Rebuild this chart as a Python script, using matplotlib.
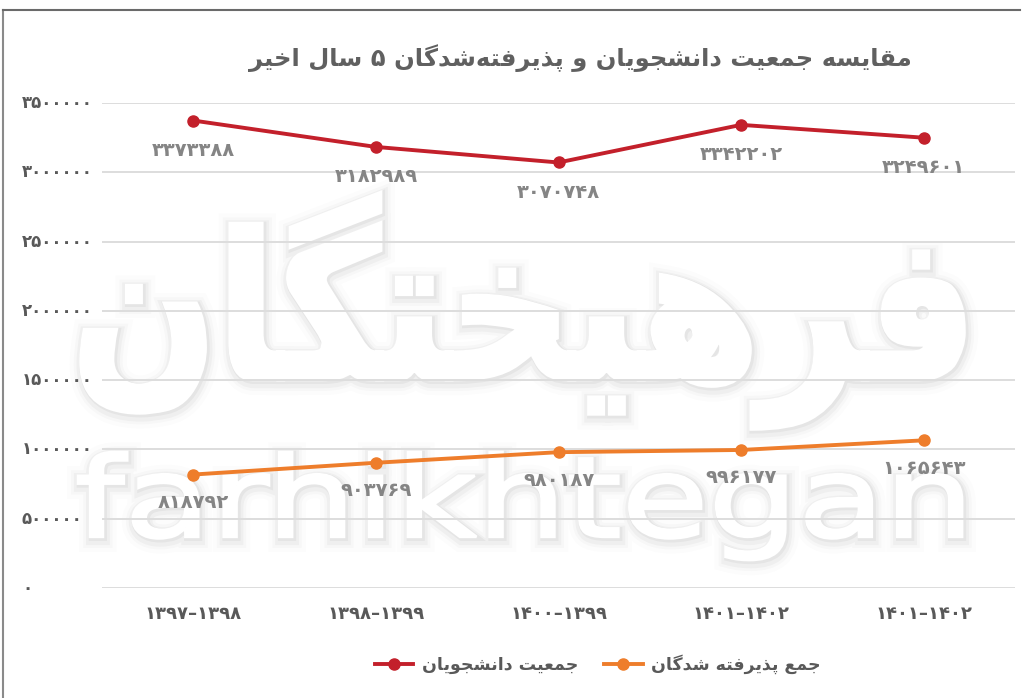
import matplotlib
matplotlib.use("Agg")
import matplotlib.pyplot as plt
from matplotlib.lines import Line2D
from matplotlib import transforms
from matplotlib.textpath import TextPath
from matplotlib.patches import PathPatch
from matplotlib.font_manager import FontProperties
import matplotlib.patheffects as pe

# ---------------- data ----------------
categories = ["1397-1398", "1398-1399", "1400-1399", "1401-1402", "1401-1402"]
students = [3373388, 3182989, 3070748, 3342202, 3249601]
admitted = [818792, 903769, 980187, 996177, 1065643]
yticks = [0, 500000, 1000000, 1500000, 2000000, 2500000, 3000000, 3500000]
title_text = "مقایسه جمعیت دانشجویان و پذیرفته\u200cشدگان ۵ سال اخیر"
label_students = "جمعیت دانشجویان"
label_admitted = "جمع پذیرفته شدگان"
watermark_fa = "فرهیختگان"
watermark_en = "farhikhtegan"

# ---------------- helpers ----------------
FORMS = {
    'ا': ('\uFE8D', '\uFE8E', None, None),
    'پ': ('\uFB56', '\uFB57', '\uFB58', '\uFB59'),
    'ت': ('\uFE95', '\uFE96', '\uFE97', '\uFE98'),
    'ج': ('\uFE9D', '\uFE9E', '\uFE9F', '\uFEA0'),
    'خ': ('\uFEA5', '\uFEA6', '\uFEA7', '\uFEA8'),
    'د': ('\uFEA9', '\uFEAA', None, None),
    'ذ': ('\uFEAB', '\uFEAC', None, None),
    'ر': ('\uFEAD', '\uFEAE', None, None),
    'س': ('\uFEB1', '\uFEB2', '\uFEB3', '\uFEB4'),
    'ش': ('\uFEB5', '\uFEB6', '\uFEB7', '\uFEB8'),
    'ع': ('\uFEC9', '\uFECA', '\uFECB', '\uFECC'),
    'ف': ('\uFED1', '\uFED2', '\uFED3', '\uFED4'),
    'ق': ('\uFED5', '\uFED6', '\uFED7', '\uFED8'),
    'گ': ('\uFB92', '\uFB93', '\uFB94', '\uFB95'),
    'ل': ('\uFEDD', '\uFEDE', '\uFEDF', '\uFEE0'),
    'م': ('\uFEE1', '\uFEE2', '\uFEE3', '\uFEE4'),
    'ن': ('\uFEE5', '\uFEE6', '\uFEE7', '\uFEE8'),
    'ه': ('\uFEE9', '\uFEEA', '\uFEEB', '\uFEEC'),
    'و': ('\uFEED', '\uFEEE', None, None),
    'ی': ('\uFBFC', '\uFBFD', '\uFBFE', '\uFBFF'),
}


def shape(s):
    out = []
    for i, c in enumerate(s):
        if c == '\u200c':
            continue
        if c not in FORMS:
            out.append(c)
            continue
        prev = s[i - 1] if i > 0 else None
        nxt = s[i + 1] if i + 1 < len(s) else None
        jp = prev in FORMS and FORMS[prev][2] is not None
        jn = FORMS[c][2] is not None and nxt in FORMS
        iso, fin, ini, med = FORMS[c]
        if jp and jn:
            out.append(med)
        elif jp:
            out.append(fin)
        elif jn:
            out.append(ini)
        else:
            out.append(iso)
    return ''.join(reversed(out))


FA_DIGITS = str.maketrans('0123456789-', '۰۱۲۳۴۵۶۷۸۹–')


def fa(x):
    return str(x).translate(FA_DIGITS)


# ---------------- figure ----------------
W, H = 1030, 698
fig = plt.figure(figsize=(W / 100, H / 100), dpi=100)
fig.patch.set_facecolor('white')


def fit_text(s, x0, x1, y0, y1, weight='normal', thicken=4):
    """Draw text as a path stretched into the pixel box (top-left origin)."""
    prop = FontProperties(family='DejaVu Sans', weight=weight)
    tp = TextPath((0, 0), s, size=100, prop=prop)
    ext = tp.get_extents()
    sx = (x1 - x0) / ext.width
    sy = (y1 - y0) / ext.height
    tr = (transforms.Affine2D().translate(-ext.x0, -ext.y0).scale(sx, sy)
          .translate(x0, H - y1))
    effects = [pe.Stroke(linewidth=16 + thicken, foreground='black', alpha=0.012, offset=(1, -2)),
               pe.Stroke(linewidth=10 + thicken, foreground='black', alpha=0.02, offset=(1, -2)),
               pe.Stroke(linewidth=6 + thicken, foreground='black', alpha=0.03, offset=(1, -2)),
               pe.Stroke(linewidth=2 + thicken, foreground='black', alpha=0.04, offset=(1, -1)),
               pe.Stroke(linewidth=thicken, foreground='white'),
               pe.Normal()]
    patch = PathPatch(tr.transform_path(tp), facecolor='white', edgecolor='none',
                      transform=transforms.IdentityTransform(), zorder=-2,
                      path_effects=effects)
    fig.add_artist(patch)


fit_text(shape(watermark_fa), 82, 963, 194, 428, weight='bold', thicken=4)
fit_text(watermark_en, 78, 962, 452, 560, weight='normal', thicken=2)

L, R, B, T = 102, 1015, 588, 103
ax = fig.add_axes([L / W, 1 - B / H, (R - L) / W, (B - T) / H])
ax.set_facecolor('none')

x = list(range(len(categories)))
red = '#C3202B'
orange = '#EE7D2B'
txt_gray = '#858585'
dark = '#595959'

ax.set_xlim(-0.5, len(categories) - 0.5)
ax.set_ylim(0, 3500000)
for sp in ax.spines.values():
    sp.set_visible(False)
ax.set_yticks(yticks)
ax.yaxis.grid(True, color='#DDDDDD', linewidth=1.4)
ax.set_axisbelow(True)
ax.tick_params(axis='both', length=0)
ax.set_yticklabels([])
ax.set_xticks(x)
ax.set_xticklabels([fa(c) for c in categories], fontsize=13, fontweight='bold',
                   color=dark, family='DejaVu Sans')
ax.tick_params(axis='x', pad=12)

ax.plot(x, students, color=red, linewidth=2.8, marker='o', markersize=8, zorder=5)
ax.plot(x, admitted, color=orange, linewidth=2.8, marker='o', markersize=8, zorder=5)

for xi, v in zip(x, students):
    ax.annotate(fa(v), (xi, v), xytext=(0, -30), textcoords='offset pixels',
                ha='center', va='center', fontsize=14, fontweight='bold',
                color=txt_gray, zorder=6)
for xi, v in zip(x, admitted):
    ax.annotate(fa(v), (xi, v), xytext=(0, -28), textcoords='offset pixels',
                ha='center', va='center', fontsize=14, fontweight='bold',
                color=txt_gray, zorder=6)

# y tick labels at the left edge
tr = transforms.blended_transform_factory(fig.transFigure, ax.transData)
for t in yticks:
    fig.text(22 / W, t, fa(t), transform=tr, ha='left', va='center',
             fontsize=12, fontweight='bold', color=dark)

# title
fig.text(912 / W, 1 - 58 / H, shape(title_text), ha='right', va='center',
         fontsize=17.5, fontweight='bold', color='#606060')

# legend
handles = [Line2D([0], [0], color=red, linewidth=2.8, marker='o', markersize=8),
           Line2D([0], [0], color=orange, linewidth=2.8, marker='o', markersize=8)]
leg = fig.legend(handles, [shape(label_students), shape(label_admitted)],
                 loc='center', bbox_to_anchor=(598 / W, 1 - 664 / H), ncol=2,
                 frameon=False, handlelength=2.2, columnspacing=1.5,
                 handletextpad=0.5, prop={'size': 12.5, 'weight': 'bold'})
for t in leg.get_texts():
    t.set_color(dark)

# border lines (left and top)
fig.add_artist(Line2D([3 / W, 3 / W], [0, 1 - 10 / H], transform=fig.transFigure,
                      color='#8A8A8A', linewidth=1.5))
fig.add_artist(Line2D([3 / W, 1020 / W], [1 - 10 / H, 1 - 10 / H], transform=fig.transFigure,
                      color='#6A6A6A', linewidth=1.5))

fig.savefig('out.png', dpi=100, facecolor='white')
